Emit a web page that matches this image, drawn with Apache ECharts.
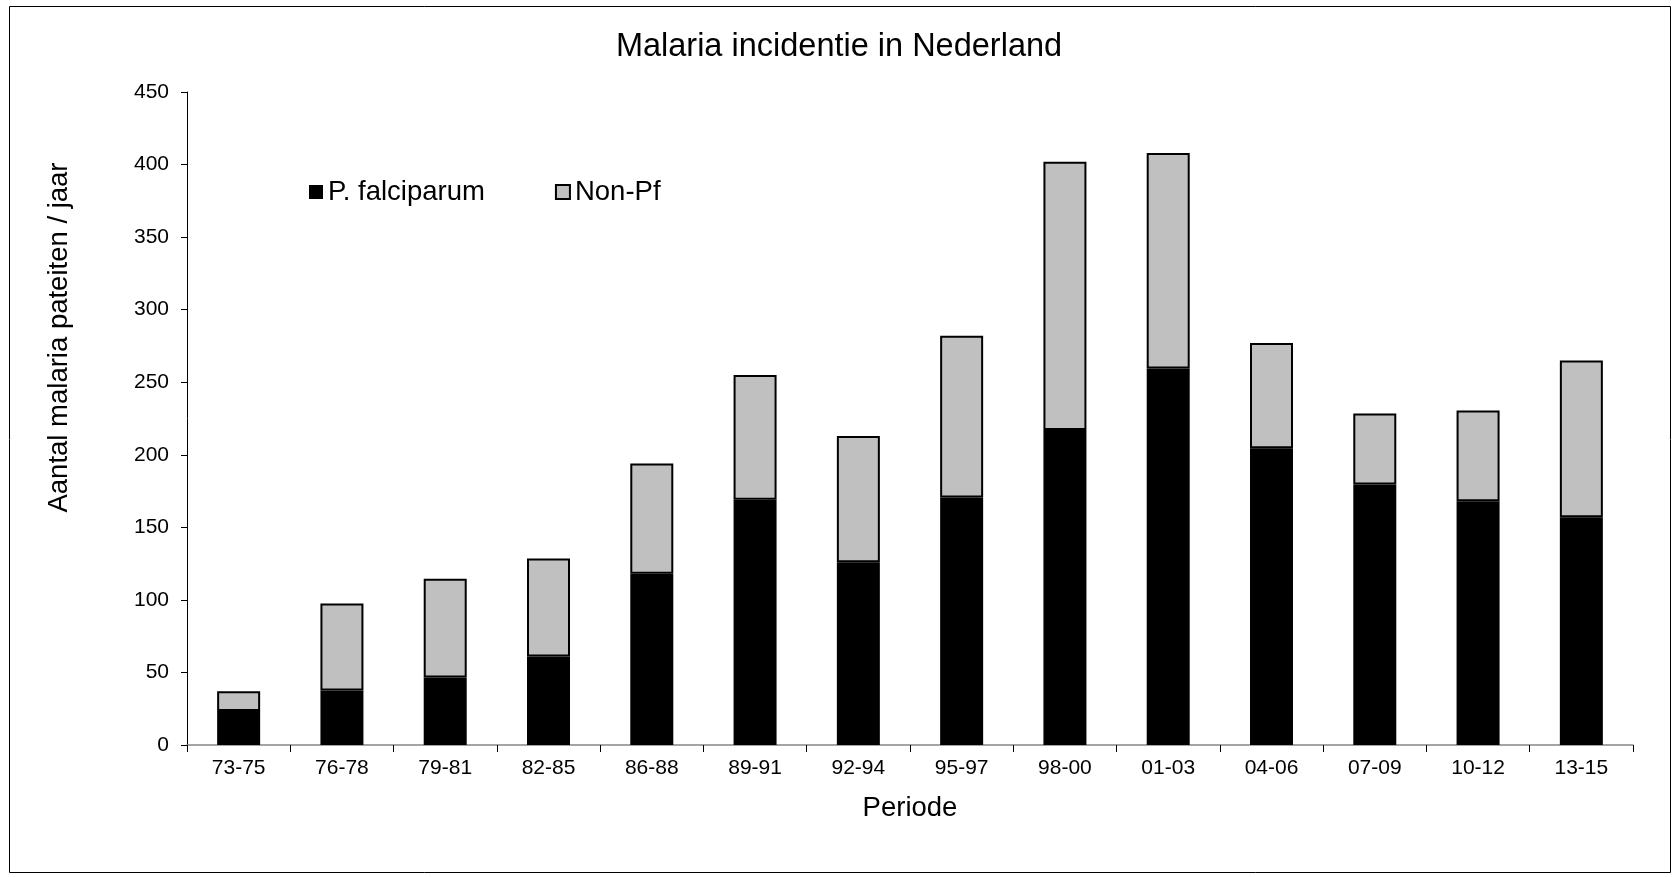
<!DOCTYPE html>
<html>
<head>
<meta charset="utf-8">
<script src="https://cdn.jsdelivr.net/npm/echarts@6/dist/echarts.min.js"></script>
<style>
html,body{margin:0;padding:0;background:#fff;}
#chart{width:1678px;height:877px;}
</style>
</head>
<body>
<div id="chart"></div>
<script>
const categories = ['73-75','76-78','79-81','82-85','86-88','89-91','92-94','95-97','98-00','01-03','04-06','07-09','10-12','13-15'];
const pfValues = [23.5, 37.5, 46.5, 61, 118, 169, 126, 170.5, 217, 259.5, 204.5, 179.5, 168, 157];
const nonPfValues = [13.5, 60, 68, 67.5, 76, 86, 87, 111.5, 185, 148.5, 72.5, 49, 62.5, 108];
const titleText = 'Malaria incidentie in Nederland';
const xName = 'Periode';
const yName = 'Aantal malaria pateiten / jaar';

const font = '"Liberation Sans", Arial, sans-serif';
const chart = echarts.init(document.getElementById('chart'), null, {renderer:'canvas'});
chart.setOption({
  animation:false,
  backgroundColor:'#fff',
  textStyle:{fontFamily:font},
  title:{text:titleText,left:'center',top:26,textStyle:{fontFamily:font,fontSize:32.5,fontWeight:'normal',color:'#000'}},
  legend:{
    left:304, top:173, itemWidth:14, itemHeight:14, itemGap:70,
    textStyle:{fontFamily:font,fontSize:27.5,color:'#000'},
    data:[{name:'P. falciparum',icon:'rect'},{name:'Non-Pf',icon:'rect'}]
  },
  graphic:[{type:'rect',shape:{x:9.5,y:6.5,width:1661,height:866},style:{fill:'none',stroke:'#000',lineWidth:1},silent:true}],
  grid:{left:187,top:92,right:45,bottom:132},
  xAxis:{
    type:'category', data:categories,
    name:xName, nameLocation:'middle', nameGap:49,
    nameTextStyle:{fontFamily:font,fontSize:27.5,color:'#000'},
    axisLine:{lineStyle:{color:'#868686',width:1.5}},
    axisTick:{show:true,length:7,lineStyle:{color:'#000'}},
    axisLabel:{fontFamily:font,fontSize:21,color:'#000',margin:13}
  },
  yAxis:{
    type:'value', min:0, max:450, interval:50,
    name:yName, nameLocation:'middle', nameGap:114,
    nameTextStyle:{fontFamily:font,fontSize:27.5,color:'#000',padding:[0,0,0,162]},
    splitLine:{show:false},
    axisLine:{show:true,lineStyle:{color:'#000',width:1}},
    axisTick:{show:true,length:6,lineStyle:{color:'#000'}},
    axisLabel:{fontFamily:font,fontSize:21,color:'#000',margin:18}
  },
  series:[
    {name:'P. falciparum',type:'bar',stack:'t',data:pfValues,barWidth:43,
     itemStyle:{color:'#000',borderColor:'#000',borderWidth:0}},
    {name:'Non-Pf',type:'bar',stack:'t',data:nonPfValues,barWidth:43,
     itemStyle:{color:'#C0C0C0',borderColor:'#000',borderWidth:2}}
  ]
});
</script>
</body>
</html>
